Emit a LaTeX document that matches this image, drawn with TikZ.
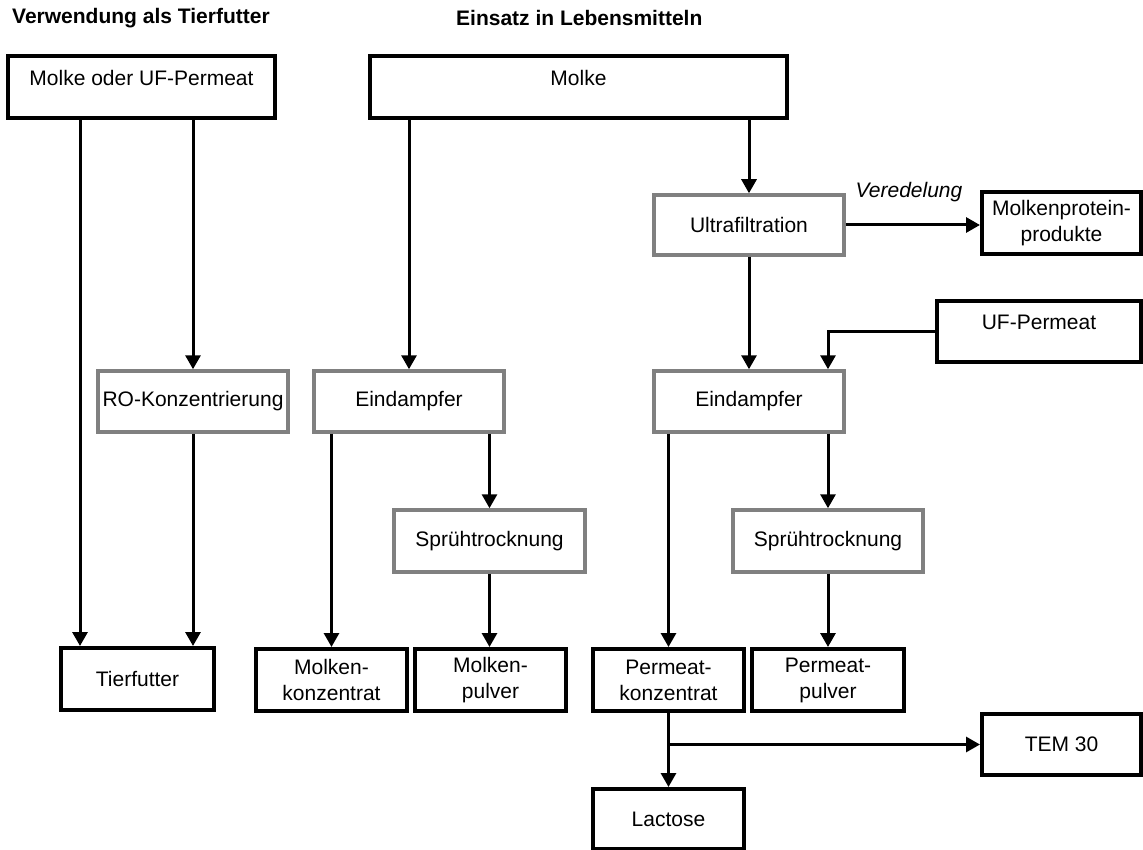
\documentclass[tikz,border=0pt]{standalone}
\usepackage{fontspec}
\setmainfont{Liberation Sans}
\usetikzlibrary{arrows.meta,calc}
\begin{document}
\begin{tikzpicture}[x=1pt,y=-1pt,
  every node/.style={font=\fontsize{21}{26}\selectfont, align=center, inner sep=0pt},
  bbox/.style={draw=black, line width=4pt, fill=white},
  gbox/.style={draw=black!50, line width=3.5pt, fill=white},
  arr/.style={draw=black, line width=3pt, -{Triangle[width=15pt,length=14pt]}},
  hdr/.style={anchor=west, font=\fontsize{21}{26}\selectfont\bfseries}]
\useasboundingbox (0,0) rectangle (1143,850);

% headers
\node[hdr] (h1) at (12,18) {Verwendung als Tierfutter};
\node[hdr] (h2) at (456,18) {Einsatz in Lebensmitteln};

% boxes
\node[bbox, minimum width=267pt, minimum height=62pt] (mo) at (141.5,87) {Molke oder UF-Permeat\\[-8pt]\mbox{}};
\node[bbox, minimum width=417pt, minimum height=62pt] (mk) at (578.5,87) {Molke\\[-8pt]\mbox{}};
\node[gbox, minimum width=190pt, minimum height=60pt] (uf) at (749,225) {Ultrafiltration};
\node[bbox, minimum width=159pt, minimum height=62pt] (mp) at (1061.5,223) {Molkenprotein-\\produkte};
\node[bbox, minimum width=204pt, minimum height=61pt] (ufp) at (1039,331.5) {UF-Permeat\\[-8pt]\mbox{}};
\node[gbox, minimum width=190pt, minimum height=61pt] (ro) at (193,401.5) {RO-Konzentrierung};
\node[gbox, minimum width=190pt, minimum height=61pt] (edl) at (409,401.5) {Eindampfer};
\node[gbox, minimum width=190pt, minimum height=61pt] (edr) at (749,401.5) {Eindampfer};
\node[gbox, minimum width=191pt, minimum height=62pt] (spl) at (489.5,541) {Sprühtrocknung};
\node[gbox, minimum width=190pt, minimum height=62pt] (spr) at (828,541) {Sprühtrocknung};
\node[bbox, minimum width=153pt, minimum height=62pt] (tf) at (137.5,679) {Tierfutter};
\node[bbox, minimum width=151pt, minimum height=62pt] (mkz) at (331.5,680) {Molken-\\konzentrat};
\node[bbox, minimum width=151pt, minimum height=62pt] (mpu) at (490.5,680) {Molken-\\pulver};
\node[bbox, minimum width=151pt, minimum height=62pt] (pkz) at (668.5,680) {Permeat-\\konzentrat};
\node[bbox, minimum width=152pt, minimum height=62pt] (ppu) at (828,680) {Permeat-\\pulver};
\node[bbox, minimum width=159pt, minimum height=61pt] (tem) at (1061.5,744.5) {TEM 30};
\node[bbox, minimum width=151pt, minimum height=60pt] (lac) at (668.5,819) {Lactose};

\node[font=\fontsize{21}{26}\selectfont\itshape] (ver) at (909,192) {Veredelung};

\coordinate (xa) at (80,0);

% connectors
\draw[arr] (mo.south -| xa) -- (tf.north -| xa);
\draw[arr] (mo.south -| ro.north) -- (ro.north);
\draw[arr] (ro.south) -- (tf.north -| ro.south);
\draw[arr] (mk.south -| edl.north) -- (edl.north);
\draw[arr] (mk.south -| uf.north) -- (uf.north);
\draw[arr] (edl.south -| mkz.north) -- (mkz.north);
\draw[arr] (edl.south -| spl.north) -- (spl.north);
\draw[arr] (spl.south) -- (mpu.north -| spl.south);
\draw[arr] (uf.east) -- (mp.west |- uf.east);
\draw[arr] (uf.south) -- (edr.north);
\draw[arr] (ufp.west) -| (edr.north -| spr.north);
\draw[arr] (edr.south -| pkz.north) -- (pkz.north);
\draw[arr] (edr.south -| spr.north) -- (spr.north);
\draw[arr] (spr.south) -- (ppu.north -| spr.south);
\draw[arr] (pkz.south) -- (lac.north);
\draw[arr] (pkz.south |- tem.west) -- (tem.west);
\end{tikzpicture}
\end{document}
